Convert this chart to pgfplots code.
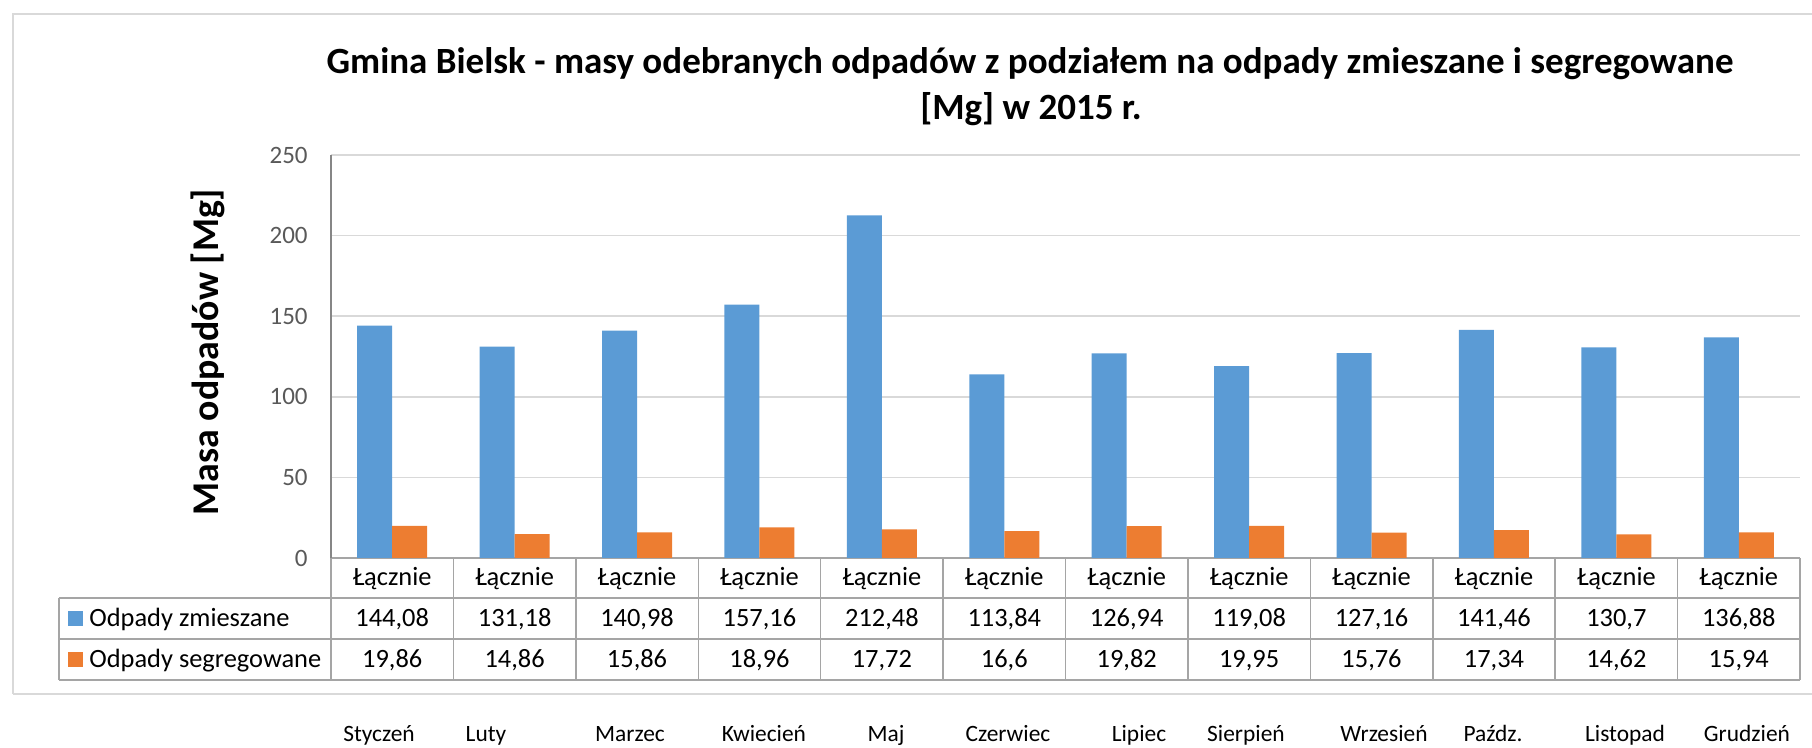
\documentclass[border=0pt]{standalone}
\usepackage{pgfplots}
\pgfplotsset{compat=1.18}
\usepackage{pgfplotstable}
\usepackage{fontspec}
\setmainfont{Carlito}
\definecolor{cA}{HTML}{5B9BD5}
\definecolor{cB}{HTML}{ED7D31}
\definecolor{ctick}{HTML}{595959}
\definecolor{cgrid}{HTML}{D9D9D9}
\definecolor{ctab}{HTML}{A5A5A5}
\definecolor{cyax}{HTML}{868686}
\newcommand\tickfont{\fontsize{12.5}{15}\selectfont}
\newcommand\tabfont{\fontsize{13.2}{16}\selectfont}
\newcommand\monfont{\fontsize{11.7}{14}\selectfont}
\newcommand\titlefont{\fontsize{18.5}{22}\selectfont\bfseries}
\newcommand\ylabfont{\fontsize{18.9}{22}\selectfont\bfseries}
\pgfplotstableread{
x mix seg
0 144.08 19.86
1 131.18 14.86
2 140.98 15.86
3 157.16 18.96
4 212.48 17.72
5 113.84 16.6
6 126.94 19.82
7 119.08 19.95
8 127.16 15.76
9 141.46 17.34
10 130.7 14.62
11 136.88 15.94
}\datatable
\begin{document}
\begin{tikzpicture}
\path[use as bounding box] (-165.5pt,-95pt) rectangle (740.5pt,279pt);
% outer chart frame
\draw[cgrid, line width=0.75pt] (-159pt,-68pt) -- (-159pt,272pt) -- (750pt,272pt);
\draw[cgrid, line width=0.75pt] (-159pt,-68pt) -- (750pt,-68pt);
\begin{axis}[
  at={(0pt,0pt)}, anchor=south west,
  scale only axis, width=734.5pt, height=201.5pt,
  xmin=-0.5, xmax=11.5, ymin=0, ymax=250,
  ytick={0,50,...,250},
  xtick={0,...,11}, xticklabel={Łącznie},
  major tick length=0pt,
  axis y line*=left, axis x line*=bottom,
  y axis line style={draw=cyax, line width=0.75pt, -},
  x axis line style={draw=ctab, line width=0.75pt, -},
  ymajorgrids, grid style={draw=cgrid, line width=0.75pt},
  clip=false,
  /pgf/number format/assume math mode=true,
  /pgf/number format/use comma,
  /pgf/number format/precision=2,
  /pgf/number format/1000 sep={},
  yticklabel style={font=\tickfont, text=ctick, anchor=east, inner sep=0pt, xshift=-11.5pt},
  xticklabel style={font=\tabfont, text=black, anchor=base, inner sep=0pt, yshift=-14pt},
]
\addplot[ybar, bar width=17.5pt, bar shift=-8.75pt, fill=cA, draw=none] table[x=x, y=mix] {\datatable};
\addplot[ybar, bar width=17.5pt, bar shift=8.75pt, fill=cB, draw=none] table[x=x, y=seg] {\datatable};
% table rows: values printed from the same data
\addplot[draw=none, mark=none, nodes near coords, point meta=explicit,
  every node near coord/.append style={anchor=base, inner sep=0pt, font=\tabfont, text=black}]
  table[x=x, y expr=-42.8, meta=mix] {\datatable};
\addplot[draw=none, mark=none, nodes near coords, point meta=explicit,
  every node near coord/.append style={anchor=base, inner sep=0pt, font=\tabfont, text=black}]
  table[x=x, y expr=-68.24, meta=seg] {\datatable};
\end{axis}
% data table grid
\foreach \y in {-20,-40.5,-61} \draw[ctab, line width=0.75pt] (-136pt,\y pt) -- (734.5pt,\y pt);
\draw[ctab, line width=0.75pt] (-136pt,-20pt) -- (-136pt,-61pt);
\foreach \k in {0,...,12} \draw[ctab, line width=0.75pt] ({\k*61.2083pt},0pt) -- ({\k*61.2083pt},-61pt);
% legend keys in table
\fill[cA] (-131.5pt,-34pt) rectangle (-124pt,-26.5pt);
\fill[cB] (-131.5pt,-54.5pt) rectangle (-124pt,-47pt);
\node[anchor=base west, inner sep=0pt, font=\tabfont] at (-121pt,-34.5pt) {Odpady zmieszane};
\node[anchor=base west, inner sep=0pt, font=\tabfont] at (-121pt,-55pt) {Odpady segregowane};
% title
\node[anchor=base, inner sep=0pt, font=\titlefont] at (349.5pt,242pt) {Gmina Bielsk - masy odebranych odpadów z podziałem na odpady zmieszane i segregowane};
\node[anchor=base, inner sep=0pt, font=\titlefont] at (350pt,219pt) {[Mg] w 2015 r.};
% y label
\node[rotate=90, inner sep=0pt, font=\ylabfont] at (-61.75pt,103pt) {Masa odpadów [Mg]};
% month labels below the chart
\foreach \xx/\m in {379/Styczeń,486/Luty,630/Marzec,764/Kwiecień,886/Maj,1008/Czerwiec,1139/Lipiec,1246/Sierpień,1384/Wrzesień,1493/Paźdz.,1625/Listopad,1747/Grudzień}
  \node[anchor=base, inner sep=0pt, font=\monfont] at ({(\xx-331)*0.5pt},-91.8pt) {\m};
\end{tikzpicture}
\end{document}
